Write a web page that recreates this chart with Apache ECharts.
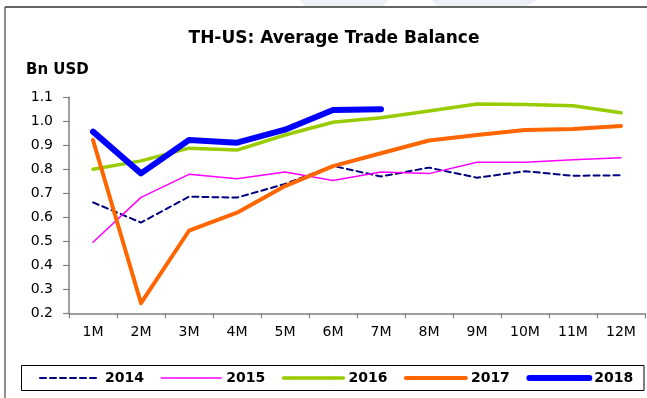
<!DOCTYPE html>
<html>
<head>
<meta charset="utf-8">
<script src="https://cdn.jsdelivr.net/npm/echarts@6/dist/echarts.min.js"></script>
<style>
  html, body { margin: 0; padding: 0; background: #fff; }
  #chart { width: 647px; height: 398px; }
</style>
</head>
<body>
<div id="chart"></div>
<script>
// Months of the year
const months = ['1M', '2M', '3M', '4M', '5M', '6M', '7M', '8M', '9M', '10M', '11M', '12M'];

// Average trade balance, Bn USD
const y2014 = [0.662, 0.578, 0.686, 0.682, 0.739, 0.814, 0.770, 0.807, 0.765, 0.792, 0.773, 0.775];
const y2015 = [0.496, 0.683, 0.779, 0.761, 0.789, 0.753, 0.789, 0.782, 0.829, 0.829, 0.840, 0.848];
const y2016 = [0.800, 0.835, 0.888, 0.880, 0.943, 0.996, 1.015, 1.043, 1.072, 1.070, 1.065, 1.036];
const y2017 = [0.922, 0.242, 0.544, 0.619, 0.730, 0.813, 0.867, 0.920, 0.943, 0.964, 0.968, 0.980];
const y2018 = [0.957, 0.783, 0.922, 0.911, 0.965, 1.047, 1.050];

const chart = echarts.init(document.getElementById('chart'), null, { renderer: 'canvas' });

const FONT = 'DejaVu Sans';

// year, colour, line width, dash pattern
const styles = [
  ['2014', '#000080', 2, [6, 4]],
  ['2015', '#ff00ff', 1.5, 'solid'],
  ['2016', '#99cc00', 3.5, 'solid'],
  ['2017', '#ff6600', 4, 'solid'],
  ['2018', '#0000ff', 6, 'solid']
];
const seriesData = [y2014, y2015, y2016, y2017, y2018];

const series = styles.map(function (s, i) {
  return {
    name: s[0],
    type: 'line',
    data: seriesData[i],
    symbol: 'none',
    showSymbol: false,
    lineStyle: { color: s[1], width: s[2], type: s[3], cap: 'round', join: 'round' },
    itemStyle: { color: s[1] },
    emphasis: { disabled: true }
  };
});

const legendData = styles.map(function (s) {
  return {
    name: s[0],
    itemStyle: { opacity: 0 },
    lineStyle: { color: s[1], width: s[2], type: s[3], cap: 'round' }
  };
});

chart.setOption({
  animation: false,
  backgroundColor: '#fff',
  title: {
    text: 'TH-US: Average Trade Balance',
    left: 329,
    top: 25,
    textAlign: 'center',
    textStyle: { fontFamily: FONT, fontSize: 17, fontWeight: 'bold', color: '#000' }
  },
  grid: { left: 69, right: 2, top: 97.3, bottom: 84.7, containLabel: false },
  legend: {
    left: 39,
    top: 371,
    padding: 0,
    itemWidth: 60,
    itemHeight: 14,
    itemGap: 16.5,
    textStyle: { fontFamily: FONT, fontSize: 14, fontWeight: 'bold', color: '#000' },
    data: legendData
  },
  xAxis: {
    type: 'category',
    data: months,
    boundaryGap: true,
    axisLine: { lineStyle: { color: '#808080', width: 1.5 } },
    axisTick: { show: true, inside: false, length: 5, lineStyle: { color: '#808080', width: 1.2 } },
    axisLabel: { fontFamily: FONT, fontSize: 14, color: '#000', margin: 12 },
    splitLine: { show: false }
  },
  yAxis: {
    type: 'value',
    min: 0.2,
    max: 1.1,
    interval: 0.1,
    axisLine: { show: true, lineStyle: { color: '#808080', width: 1.5 } },
    axisTick: { show: true, inside: false, length: 6, lineStyle: { color: '#808080', width: 1.2 } },
    axisLabel: {
      fontFamily: FONT, fontSize: 14, color: '#000', margin: 16,
      formatter: function (v) { return v.toFixed(1); }
    },
    splitLine: { show: false }
  },
  graphic: [
    // faint watermark shapes above the frame
    { type: 'polygon', silent: true, z: -1,
      shape: { points: [[300, 0], [388, 0], [383, 6], [305, 6]] },
      style: { fill: '#eef0f8' } },
    { type: 'polygon', silent: true, z: -1,
      shape: { points: [[432, 0], [537, 0], [527, 6], [437, 6]] },
      style: { fill: '#eef0f8' } },
    // frame: top and left edges
    { type: 'line', silent: true,
      shape: { x1: 5, y1: 7, x2: 647, y2: 7 },
      style: { stroke: '#666', lineWidth: 2 } },
    { type: 'line', silent: true,
      shape: { x1: 5, y1: 7, x2: 5, y2: 398 },
      style: { stroke: '#444', lineWidth: 1.2 } },
    // unit label
    { type: 'text', silent: true, x: 26, y: 70,
      style: { text: 'Bn USD', fontFamily: FONT, fontSize: 15, fontWeight: 'bold',
               fill: '#000', verticalAlign: 'middle', align: 'left' } },
    // legend box
    { type: 'rect', silent: true,
      shape: { x: 21.5, y: 365.5, width: 622.5, height: 25 },
      style: { fill: 'none', stroke: '#000', lineWidth: 1 } }
  ],
  series: series
});
</script>
</body>
</html>
